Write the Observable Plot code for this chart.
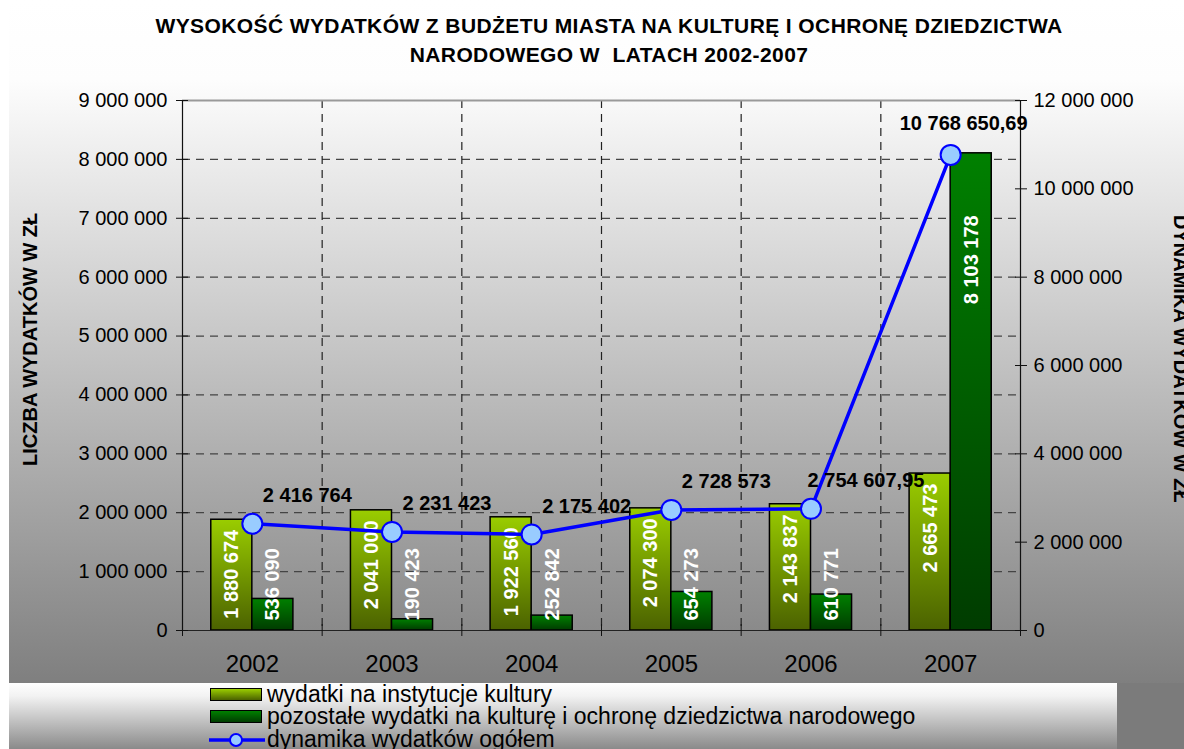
<!DOCTYPE html>
<html>
<head>
<meta charset="utf-8">
<script src="https://cdn.jsdelivr.net/npm/d3@7"></script>
<script src="https://cdn.jsdelivr.net/npm/@observablehq/plot@0.6"></script>
<style>
  html, body { margin: 0; padding: 0; background: #fff; }
  #wrap { position: relative; width: 1184px; height: 749px; overflow: hidden; background: #fff;
          font-family: "Liberation Sans", Arial, sans-serif; }
  #bg { position: absolute; left: 9px; top: 0; width: 1175px; height: 683px;
        background: linear-gradient(to bottom, #ffffff 0px, #fdfdfd 80px, #7f7f7f 683px); }
  #br { position: absolute; left: 1117px; top: 683px; width: 67px; height: 66px; background: #7b7b7b; }
  #legendbox { position: absolute; left: 9px; top: 683px; width: 1108px; height: 66px;
        background: linear-gradient(to bottom, #ffffff 0%, #f2f2f2 20%, #8a8a8a 100%); }
  #chart { position: absolute; left: 0; top: 0; }
  #chart svg { background: transparent !important; overflow: visible; }
  .title { position: absolute; left: 0; width: 1218px; text-align: center; font-weight: bold;
           font-size: 21px; letter-spacing: 0.4px; white-space: pre; color: #000; }
  .ytitle { position: absolute; font-weight: bold; font-size: 20px; white-space: pre; color: #000;
            transform-origin: 0 0; }
  .leg { position: absolute; left: 0; top: 0; font-size: 23px; line-height: 21px; color: #000; white-space: pre; }
  .sw { position: absolute; width: 50px; height: 11px; border: 1.5px solid #000; }
</style>
</head>
<body>
<div id="wrap">
  <div id="bg"></div>
  <div id="br"></div>
  <div id="legendbox"></div>
  <div id="chart"></div>
</div>
<script>
// ---------- data ----------
const years = [2002, 2003, 2004, 2005, 2006, 2007];
const instytucje = [1880674, 2041000, 1922560, 2074300, 2143837, 2665473];
const pozostale = [536090, 190423, 252842, 654273, 610771, 8103178];
const dynamika = [2416764, 2231423, 2175402, 2728573, 2754607.95, 10768650.69];
const leftTicks = [0, 1000000, 2000000, 3000000, 4000000, 5000000, 6000000, 7000000, 8000000, 9000000];
const rightTicks = [0, 2000000, 4000000, 6000000, 8000000, 10000000, 12000000];
const seriesNames = [
  "wydatki na instytucje kultury",
  "pozostałe wydatki na kulturę i ochronę dziedzictwa narodowego",
  "dynamika wydatków ogółem"
];
const titleLines = [
  "WYSOKOŚĆ WYDATKÓW Z BUDŻETU MIASTA NA KULTURĘ I OCHRONĘ DZIEDZICTWA",
  "NARODOWEGO W  LATACH 2002-2007"
];
const leftTitle = "LICZBA WYDATKÓW W ZŁ";
const rightTitle = "DYNAMIKA WYDATKÓW W ZŁ";

// ---------- helpers ----------
const loc = d3.formatLocale({decimal: ",", thousands: " ", grouping: [3], currency: ["", ""]});
const fInt = loc.format(",d");
const fDec = loc.format(",.2f");
const fmt = v => Number.isInteger(v) ? fInt(v) : fDec(v);
const leftMax = leftTicks[leftTicks.length - 1];
const rightMax = rightTicks[rightTicks.length - 1];
const ratio = leftMax / rightMax; // right-axis value -> left-axis units

const light = years.map((y, i) => ({year: y, v: instytucje[i]}));
const dark = years.map((y, i) => ({year: y, v: pozostale[i]}));
const line = years.map((y, i) => ({year: y, v: dynamika[i], yl: dynamika[i] * ratio, i}));
const bw = 0.294; // bar width in band units
const bounds = [years[0] - 0.5, ...years.map(y => y + 0.5)];
const inner = bounds.slice(1, -1);
const last = years.length - 1;

const FONT = "Liberation Sans, Arial, sans-serif";

function defs() {
  const ns = "http://www.w3.org/2000/svg";
  const d = document.createElementNS(ns, "defs");
  d.innerHTML = `
    <linearGradient id="gLight" x1="0" y1="0" x2="0" y2="1">
      <stop offset="0" stop-color="#9acd00"/><stop offset="1" stop-color="#4b6200"/>
    </linearGradient>
    <linearGradient id="gDark" x1="0" y1="0" x2="0" y2="1">
      <stop offset="0" stop-color="#008000"/><stop offset="1" stop-color="#003c00"/>
    </linearGradient>`;
  return d;
}

const chart = Plot.plot({
  width: 1184,
  height: 683,
  marginTop: 100,
  marginBottom: 53,
  marginLeft: 182,
  marginRight: 164,
  style: {background: "transparent", fontFamily: FONT, overflow: "visible"},
  x: {type: "linear", domain: [bounds[0], bounds[bounds.length - 1]], axis: null},
  y: {domain: [0, leftMax], axis: null},
  marks: [
    defs,
    // grid
    Plot.ruleY(leftTicks.slice(1, -1), {stroke: "#444", strokeWidth: 1.2, strokeDasharray: "8,6"}),
    Plot.ruleX(inner, {stroke: "#222", strokeWidth: 1.2, strokeDasharray: "8,6"}),
    Plot.ruleY([leftMax], {stroke: "#9a9a9a", strokeWidth: 2}),
    // bars
    Plot.rectY(light, {x1: d => d.year - bw, x2: d => d.year, y: "v", fill: "url(#gLight)", stroke: "#000", strokeWidth: 1.5}),
    Plot.rectY(dark, {x1: d => d.year, x2: d => d.year + bw, y: "v", fill: "url(#gDark)", stroke: "#000", strokeWidth: 1.5}),
    // axes lines
    Plot.ruleY([0], {stroke: "#222", strokeWidth: 1.2}),
    Plot.ruleX([bounds[0]], {stroke: "#111", strokeWidth: 1.2}),
    Plot.ruleX([bounds[bounds.length - 1]], {stroke: "#111", strokeWidth: 1.2}),
    // left axis
    Plot.axisY(leftTicks, {anchor: "left", tickSize: 12, dx: 6, tickPadding: 9, tickFormat: fInt,
      fontSize: 20, fill: "#000", stroke: "#111", label: null}),
    // right axis
    Plot.axisY(rightTicks.map(v => v * ratio), {anchor: "right", tickSize: 12, dx: -6, tickPadding: 7,
      tickFormat: d => fInt(Math.round(d / ratio)), fontSize: 20, fill: "#000", stroke: "#111", label: null}),
    // bottom ticks at band boundaries
    Plot.axisX(bounds, {anchor: "bottom", tickSize: 12, dy: -6, tickFormat: () => "", stroke: "#111", label: null}),
    // year labels
    Plot.text(years, {x: d => d, y: 0, dy: 34, text: d => String(d), fontSize: 24, fill: "#000"}),
    // bar labels
    Plot.text(light, {x: d => d.year - bw / 2, y: "v", text: d => fmt(d.v), rotate: -90, textAnchor: "end",
      dy: 10, fill: "#fff", fontWeight: "bold", fontSize: 20}),
    Plot.text(dark.filter(d => d.v < leftMax / 2), {x: d => d.year + bw / 2, y: 0, text: d => fmt(d.v), rotate: -90,
      textAnchor: "start", dy: -10, fill: "#fff", fontWeight: "bold", fontSize: 20}),
    Plot.text(dark.filter(d => d.v >= leftMax / 2), {x: d => d.year + bw / 2, y: "v", text: d => fmt(d.v), rotate: -90,
      textAnchor: "end", dy: 62, fill: "#fff", fontWeight: "bold", fontSize: 20}),
    // line
    Plot.line(line, {x: "year", y: "yl", stroke: "#0000ff", strokeWidth: 3.5}),
    Plot.dot(line, {x: "year", y: "yl", r: 10, fill: "#99ccff", stroke: "#0000ff", strokeWidth: 2}),
    Plot.text(line.filter(d => d.i < last), {x: "year", y: "yl", text: d => fmt(d.v), dx: 55, dy: -28,
      fontWeight: "bold", fontSize: 20, fill: "#000"}),
    Plot.text(line.filter(d => d.i === last), {x: "year", y: "yl", text: d => fmt(d.v), dx: 13, dy: -31,
      fontWeight: "bold", fontSize: 20, fill: "#000"})
  ]
});
document.getElementById("chart").appendChild(chart);

// ---------- titles ----------
const wrap = document.getElementById("wrap");
titleLines.forEach((t, i) => {
  const el = document.createElement("div");
  el.className = "title";
  el.textContent = t;
  el.style.top = (14 + i * 29) + "px";
  wrap.appendChild(el);
});
const lt = document.createElement("div");
lt.className = "ytitle";
lt.textContent = leftTitle;
wrap.appendChild(lt);
{
  const w = lt.getBoundingClientRect().width;
  lt.style.left = (30 - 11) + "px";
  lt.style.top = (339 + w / 2) + "px";
  lt.style.transform = "rotate(-90deg)";
}
const rt = document.createElement("div");
rt.className = "ytitle";
rt.textContent = rightTitle;
wrap.appendChild(rt);
{
  const w = rt.getBoundingClientRect().width;
  rt.style.left = (1181 + 11) + "px";
  rt.style.top = (359 - w / 2) + "px";
  rt.style.transform = "rotate(90deg)";
}

// ---------- legend ----------
const legY = [695, 717, 740];
const fills = ["linear-gradient(to bottom, #9acd00, #4b6200)", "linear-gradient(to bottom, #008000, #003c00)"];
seriesNames.forEach((name, i) => {
  if (i < 2) {
    const sw = document.createElement("div");
    sw.className = "sw";
    sw.style.left = "210px";
    sw.style.top = (legY[i] - 7) + "px";
    sw.style.background = fills[i];
    wrap.appendChild(sw);
  } else {
    const ns = "http://www.w3.org/2000/svg";
    const s = document.createElementNS(ns, "svg");
    s.setAttribute("width", 60); s.setAttribute("height", 20);
    s.style.position = "absolute"; s.style.left = "207px"; s.style.top = (legY[i] - 10) + "px";
    s.innerHTML = `<line x1="2" x2="58" y1="10" y2="10" stroke="#0000ff" stroke-width="3.5"/>
      <circle cx="29" cy="10" r="6" fill="#99ccff" stroke="#0000ff" stroke-width="2"/>`;
    wrap.appendChild(s);
  }
  const t = document.createElement("div");
  t.className = "leg";
  t.textContent = name;
  t.style.left = "267px";
  t.style.top = (legY[i] - 11) + "px";
  wrap.appendChild(t);
});
</script>
</body>
</html>
